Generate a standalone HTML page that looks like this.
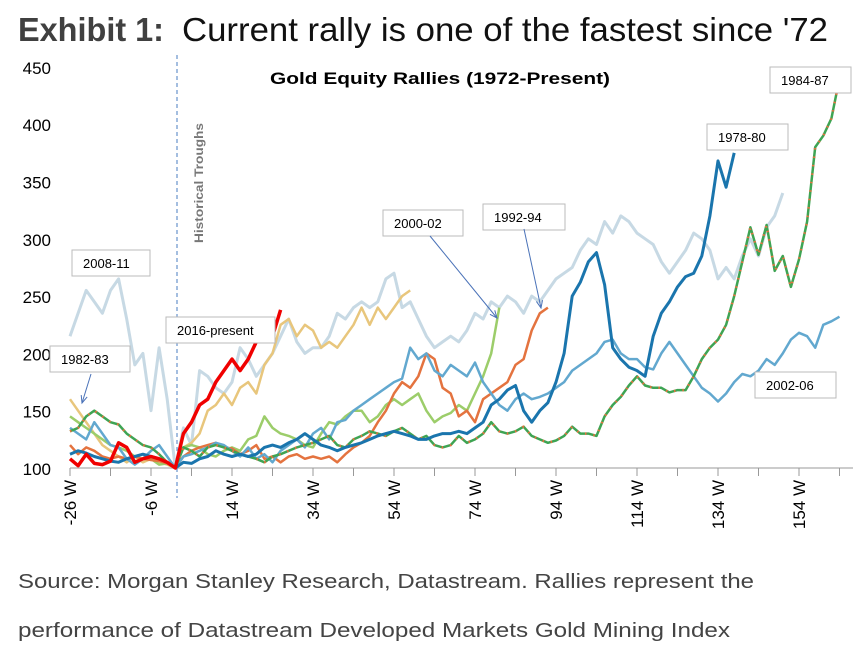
<!DOCTYPE html>
<html><head><meta charset="utf-8"><style>
html,body{margin:0;padding:0;background:#fff;}
svg{display:block;font-family:"Liberation Sans",sans-serif;}
</style></head><body>
<svg id="chart" width="859" height="666" viewBox="0 0 859 666">
<text x="18" y="41" font-size="33" font-weight="bold" fill="#404040" textLength="146" lengthAdjust="spacingAndGlyphs">Exhibit 1:</text>
<text x="182" y="41" font-size="33" fill="#111" textLength="646" lengthAdjust="spacingAndGlyphs">Current rally is one of the fastest since '72</text>
<text x="440" y="84" font-size="17" font-weight="bold" text-anchor="middle" fill="#000" textLength="340" lengthAdjust="spacingAndGlyphs">Gold Equity Rallies (1972-Present)</text>
<g id="yaxis"></g>
<g id="xaxis"></g>
<line x1="177" y1="55" x2="177" y2="498" stroke="#4a7cc0" stroke-width="1" stroke-dasharray="4,3"/>
<text transform="translate(203,243) rotate(-90)" font-size="12" font-weight="bold" fill="#777" textLength="120" lengthAdjust="spacingAndGlyphs">Historical Troughs</text>
<g id="series"></g>
<g id="notes"></g>
<text x="18" y="588" font-size="20" fill="#444" textLength="736" lengthAdjust="spacingAndGlyphs">Source: Morgan Stanley Research, Datastream. Rallies represent the</text>
<text x="18" y="637" font-size="20" fill="#444" textLength="712" lengthAdjust="spacingAndGlyphs">performance of Datastream Developed Markets Gold Mining Index</text>
</svg>
<script>
// data (weeks from trough, sampled every 2 weeks starting at -26)
const yTicks = [100,150,200,250,300,350,400,450];
const xTickWeeks = [-26,-16,-6,4,14,24,34,44,54,64,74,84,94,104,114,124,134,144,154,164];
const xLabelWeeks = [-26,-6,14,34,54,74,94,114,134,154];
const startWeek = -26;
const stepWeeks = 2;
const s2008 = [215,235,255,245,235,255,265,230,190,200,150,205,160,100,135,120,185,180,170,165,175,205,195,180,190,200,215,230,210,200,205,205,215,235,230,240,245,240,245,265,270,240,245,230,215,205,210,215,210,220,235,230,245,240,250,245,235,250,245,255,265,270,275,290,300,295,315,305,320,315,305,300,295,280,270,280,290,305,300,290,265,275,265,285,300,285,310,320,340];
const s2016 = [108,102,112,104,103,106,122,118,105,108,110,108,105,100,130,140,155,160,175,185,195,185,195,210,222,215,238];
const sTan = [160,150,140,130,120,115,110,105,110,105,108,105,103,100,118,122,130,150,155,165,155,170,175,165,190,200,225,230,215,225,220,205,210,205,215,225,240,225,240,230,240,250,255];
const s2000 = [145,140,135,130,125,120,118,115,110,112,108,103,104,100,118,120,118,112,110,115,118,115,125,128,145,135,130,128,125,120,118,130,140,138,145,150,150,140,145,155,160,155,160,165,150,140,145,148,155,150,165,180,200,240];
const s1992 = [120,112,118,115,110,108,110,108,110,108,107,106,104,100,110,115,118,120,122,118,117,112,115,120,108,110,105,110,112,108,110,108,110,105,112,118,122,128,140,150,165,175,170,180,200,195,170,165,145,150,140,160,165,170,175,190,195,220,235,240];
const s1978 = [112,115,113,110,108,106,105,108,110,112,110,108,105,100,105,104,108,110,115,112,110,112,110,112,118,120,118,122,125,130,125,120,118,115,118,120,122,125,128,130,132,130,128,125,125,128,130,130,132,130,135,140,155,160,168,172,150,140,150,157,175,200,250,262,280,288,260,205,195,188,185,180,215,235,245,258,267,270,285,320,368,345,375];
const s2002 = [135,130,125,140,130,120,118,108,103,108,115,120,110,100,110,112,115,118,122,120,115,110,118,108,112,105,115,120,125,118,130,135,125,140,142,150,155,160,165,170,175,178,205,195,200,185,180,190,185,180,192,175,165,155,150,160,165,160,162,165,170,175,185,190,195,200,210,212,200,195,195,188,186,200,210,200,190,180,170,165,158,165,175,182,180,185,195,190,200,212,218,215,205,225,228,232];
const s1984 = [132,135,145,150,145,140,138,130,125,120,118,112,105,100,118,115,110,118,120,118,115,112,110,108,105,110,112,115,118,120,122,125,128,120,118,125,128,132,130,128,132,135,130,125,128,120,118,120,128,122,125,130,140,132,130,132,136,128,125,122,124,128,136,130,130,128,145,155,162,172,180,172,170,170,166,168,168,180,195,205,212,225,250,280,310,286,312,272,285,258,282,315,380,390,405,440];
const labels = ['2008-11','2016-present','2000-02','1992-94','1978-80','2002-06','1984-87','1982-83'];

const NS='http://www.w3.org/2000/svg';
const X0=70, PXW=4.05, Y0=468, PXV=1.146;
function xs(w){return X0+(w+26)*PXW;}
function ys(v){return Y0-(v-100)*PXV;}
function mk(tag,attrs,parent){const e=document.createElementNS(NS,tag);for(const k in attrs)e.setAttribute(k,attrs[k]);parent.appendChild(e);return e;}

const yax=document.getElementById('yaxis');
yTicks.forEach(v=>{
  const t=mk('text',{x:51,y:ys(v)+7,'font-size':17,'text-anchor':'end',fill:'#000'},yax);
  
  
  t.textContent=v;
});
const xax=document.getElementById('xaxis');
const ax=mk('line',{x1:X0,y1:Y0,x2:853,y2:Y0,stroke:'#bbb','stroke-width':1.5},xax);


xTickWeeks.forEach(w=>{
  const l=mk('line',{x1:xs(w),y1:Y0,x2:xs(w),y2:Y0+8,stroke:'#999','stroke-width':1},xax);
  
  
});
xLabelWeeks.forEach(w=>{
  const t=mk('text',{transform:`translate(${xs(w)+6},480) rotate(-90)`,'font-size':17,'text-anchor':'end',fill:'#000'},xax);
  
  
  t.textContent=w+' W';
});

const sg=document.getElementById('series');
function pts(arr){return arr.map((v,i)=>xs(startWeek+i*stepWeeks).toFixed(1)+','+ys(v).toFixed(1)).join(' ');}
function line(arr,color,w,name){
  const p=mk('polyline',{points:pts(arr),fill:'none',stroke:color,'stroke-width':w,'stroke-linejoin':'round'},sg);
  
  
  return p;
}
line(s2008,'#c7d9e4',3,'series-2008-11');
line(sTan,'#e8c67c',2.5,'series-tan');
line(s2000,'#9ccd6a',2.5,'series-2000-02');
line(s1992,'#e4733f',2.5,'series-1992-94');
line(s2002,'#62a8cf',2.5,'series-2002-06');
line(s1984,'#3ea453',2.5,'series-1984-87');
const dots=line(s1984,'#e4733f',2.5,'series-1984-87-dots');
dots.setAttribute('stroke-dasharray','1.5,7');
line(s1978,'#1a75ad',3,'series-1978-80');
line(s2016,'#f00000',3.5,'series-2016-present');

const ng=document.getElementById('notes');
const boxes=[[72,250,78,'2008-11'],[166,317,109,'2016-present'],[383,210,80,'2000-02'],[483,204,82,'1992-94'],[707,124,81,'1978-80'],[755,372,81,'2002-06'],[770,67,81,'1984-87'],[50,346,80,'1982-83']];
boxes.forEach(b=>{
  const r=mk('rect',{x:b[0],y:b[1],width:b[2],height:26,fill:'#fff',stroke:'#bbb','stroke-width':1},ng);
  
  
  const t=mk('text',{x:b[0]+11,y:b[1]+18,'font-size':13,fill:'#000'},ng);
  
  
  t.textContent=b[3];
});
const arrows=[[91,374,82,403],[430,236,497,318],[524,229,541,308]];
arrows.forEach(a=>{
  const l=mk('line',{x1:a[0],y1:a[1],x2:a[2],y2:a[3],stroke:'#4a72b8','stroke-width':1},ng);
  
  
  const ang=Math.atan2(a[3]-a[1],a[2]-a[0]);
  const h=mk('polyline',{points:`${a[2]-8*Math.cos(ang-0.4)},${a[3]-8*Math.sin(ang-0.4)} ${a[2]},${a[3]} ${a[2]-8*Math.cos(ang+0.4)},${a[3]-8*Math.sin(ang+0.4)}`,fill:'none',stroke:'#4a72b8','stroke-width':1},ng);
  
  
});
</script>
</body></html>
